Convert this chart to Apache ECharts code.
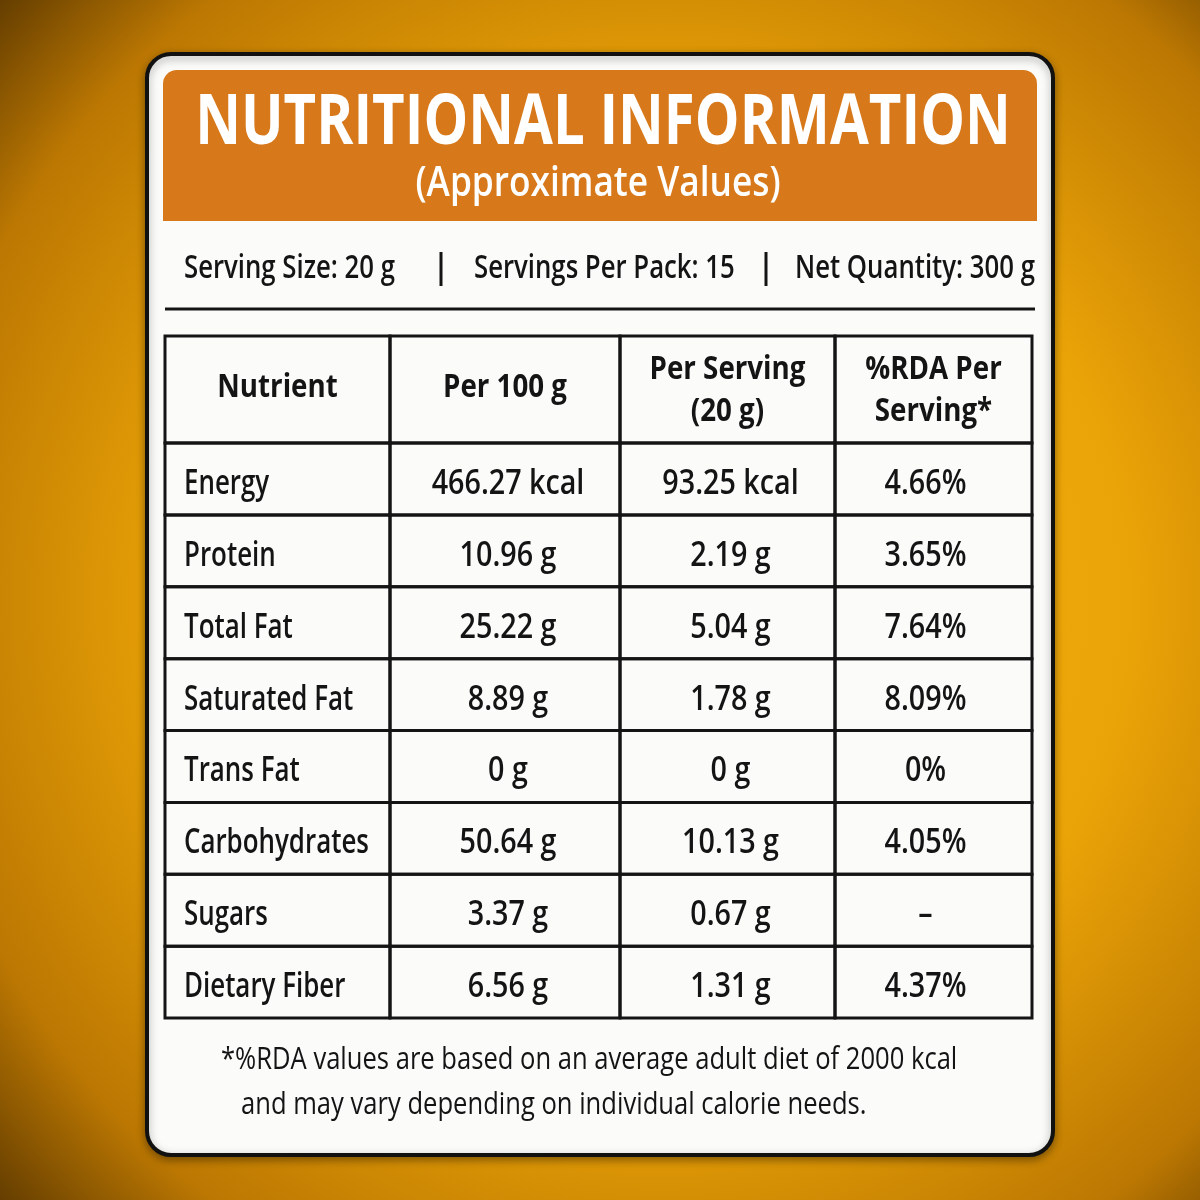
<!DOCTYPE html>
<html>
<head>
<meta charset="utf-8">
<script src="https://cdn.jsdelivr.net/npm/echarts@6/dist/echarts.min.js"></script>
<style>
html, body { margin: 0; padding: 0; }
#main { width: 1200px; height: 1200px; }
</style>
</head>
<body>
<div id="main"></div>
<script>
// ---- data ----
var title = 'NUTRITIONAL INFORMATION';
var subtitle = '(Approximate Values)';
var servingInfo = ['Serving Size: 20 g', 'Servings Per Pack: 15', 'Net Quantity: 300 g'];
var headers = [['Nutrient'], ['Per 100 g'], ['Per Serving', '(20 g)'], ['%RDA Per', 'Serving*']];
var nutrients = ['Energy', 'Protein', 'Total Fat', 'Saturated Fat', 'Trans Fat', 'Carbohydrates', 'Sugars', 'Dietary Fiber'];
var per100g = ['466.27 kcal', '10.96 g', '25.22 g', '8.89 g', '0 g', '50.64 g', '3.37 g', '6.56 g'];
var perServing = ['93.25 kcal', '2.19 g', '5.04 g', '1.78 g', '0 g', '10.13 g', '0.67 g', '1.31 g'];
var rdaPerServing = ['4.66%', '3.65%', '7.64%', '8.09%', '0%', '4.05%', '\u2013', '4.37%'];
var footnote = ['*%RDA values are based on an average adult diet of 2000 kcal', 'and may vary depending on individual calorie needs.'];

// ---- layout ----
var FONT = '"Open Sans", "Noto Sans", sans-serif';
var INK = '#141414';
var ORANGE = '#d7791b';
var colEdges = [0, 225, 455, 670, 867];  // column edges, table units
var tableH = 682;
var headerH = 107;
var rowH = (tableH - headerH) / nutrients.length;
var NAME_SX = 0.74;
var VALUE_SX = 0.82;
var INFO_SX = 0.78;

var columns = [nutrients, per100g, perServing, rdaPerServing];
var cells = [];
headers.forEach(function (h, c) {
    cells.push({ value: [c, 0], lines: h, header: true });
});
nutrients.forEach(function (n, r) {
    columns.forEach(function (col, c) {
        cells.push({ value: [c, r + 1], lines: [col[r]], header: false });
    });
});

function rowTop(r) { return r === 0 ? 0 : headerH + (r - 1) * rowH; }
function rowBottom(r) { return r === 0 ? headerH : headerH + r * rowH; }

function txt(x, y, s, font, align, sx, fill) {
    return {
        type: 'text', x: x, y: y, scaleX: sx || 1,
        style: {
            text: s, fill: fill || INK, font: font,
            align: align || 'center', verticalAlign: 'middle',
            textAlign: align || 'center', textVerticalAlign: 'middle'
        }
    };
}

function renderCell(params, api) {
    var c = api.value(0), r = api.value(1);
    var item = cells[params.dataIndex];
    var p0 = api.coord([colEdges[c], rowTop(r)]);
    var p1 = api.coord([colEdges[c + 1], rowBottom(r)]);
    var children = [{
        type: 'rect',
        shape: { x: p0[0], y: p0[1], width: p1[0] - p0[0], height: p1[1] - p0[1] },
        style: { fill: 'none', stroke: INK, lineWidth: 3 }
    }];
    var cy = (p0[1] + p1[1]) / 2;
    if (item.header) {
        var cx = (p0[0] + p1[0]) / 2;
        if (item.lines.length === 1) {
            children.push(txt(cx, cy - 2, item.lines[0], '700 33px ' + FONT, 'center', 0.84));
        } else {
            children.push(txt(cx, cy - 20, item.lines[0], '700 33px ' + FONT, 'center', 0.84));
            children.push(txt(cx, cy + 22, item.lines[1], '700 33px ' + FONT, 'center', 0.84));
        }
    } else if (c === 0) {
        children.push(txt(p0[0] + 19, cy + 5, item.lines[0], '600 35px ' + FONT, 'left', NAME_SX));
    } else {
        var off = c === 3 ? -8 : 3;
        children.push(txt((p0[0] + p1[0]) / 2 + off, cy + 5, item.lines[0], '600 35px ' + FONT, 'center', VALUE_SX));
    }
    return { type: 'group', children: children };
}

var chart = echarts.init(document.getElementById('main'));

var option = {
    backgroundColor: '#e39b08',
    animation: false,
    grid: { left: 165, top: 336, width: colEdges[colEdges.length - 1], height: tableH },
    xAxis: { type: 'value', min: 0, max: colEdges[colEdges.length - 1], show: false },
    yAxis: { type: 'value', min: 0, max: tableH, inverse: true, show: false },
    graphic: [
        {
            type: 'rect', z: 0, silent: true,
            shape: { x: 0, y: 0, width: 1200, height: 1200 },
            style: {
                fill: new echarts.graphic.RadialGradient(0.55, 0.5, 0.78, [
                    { offset: 0, color: '#f6b210' },
                    { offset: 0.5, color: '#eba407' },
                    { offset: 0.8, color: '#bb7702' },
                    { offset: 1, color: '#4a2c00' }
                ])
            }
        },
        {
            type: 'rect', z: 1,
            shape: { x: 147, y: 54, width: 906, height: 1101, r: 24 },
            style: {
                fill: '#fbfbfa', stroke: '#111', lineWidth: 4,
                shadowBlur: 8, shadowColor: 'rgba(0,0,0,0.35)', shadowOffsetY: 3
            }
        },
        {
            type: 'rect', z: 2,
            shape: { x: 163, y: 70, width: 874, height: 151, r: [14, 14, 0, 0] },
            style: { fill: ORANGE }
        },
        Object.assign(txt(603, 124, title, '700 70px ' + FONT, 'center', 0.805, '#ffffff'), { z: 3 }),
        Object.assign(txt(598, 184, subtitle, '600 41px ' + FONT, 'center', 0.86, '#ffffff'), { z: 3 }),
        Object.assign(txt(184, 269, servingInfo[0], '600 33px ' + FONT, 'left', INFO_SX), { z: 3 }),
        Object.assign(txt(474, 269, servingInfo[1], '600 33px ' + FONT, 'left', INFO_SX), { z: 3 }),
        Object.assign(txt(795, 269, servingInfo[2], '600 33px ' + FONT, 'left', INFO_SX), { z: 3 }),
        { type: 'line', z: 3, shape: { x1: 441, y1: 252, x2: 441, y2: 286 }, style: { stroke: INK, lineWidth: 3 } },
        { type: 'line', z: 3, shape: { x1: 766, y1: 252, x2: 766, y2: 286 }, style: { stroke: INK, lineWidth: 3 } },
        { type: 'line', z: 3, shape: { x1: 165, y1: 309, x2: 1035, y2: 309 }, style: { stroke: INK, lineWidth: 3 } },
        Object.assign(txt(221, 1060, footnote[0], '400 31px ' + FONT, 'left', 0.825), { z: 3 }),
        Object.assign(txt(241, 1105, footnote[1], '400 31px ' + FONT, 'left', 0.825), { z: 3 })
    ],
    series: [{
        type: 'custom',
        z: 10,
        renderItem: renderCell,
        data: cells.map(function (d) { return d.value; })
    }]
};

chart.setOption(option, true);
</script>
</body>
</html>
